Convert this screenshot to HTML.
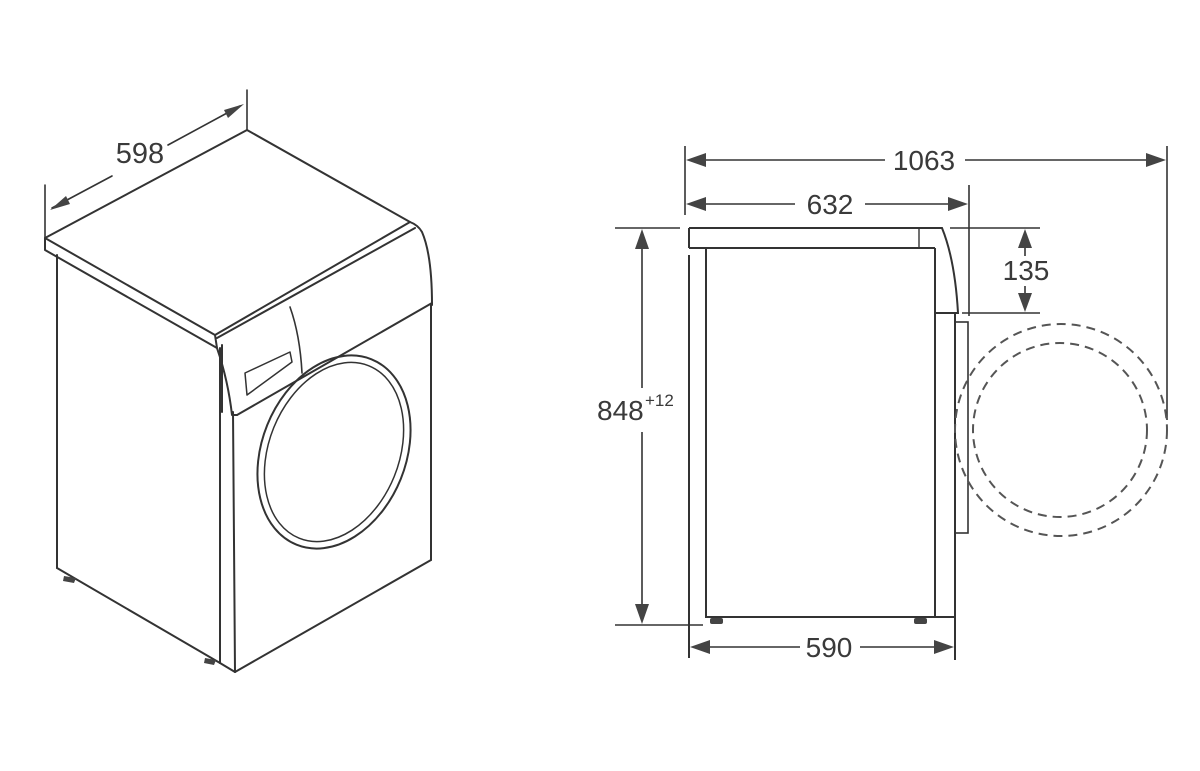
<!DOCTYPE html>
<html><head><meta charset="utf-8"><style>
html,body{margin:0;padding:0;background:#fff;}
svg{display:block;}
text{font-family:"Liberation Sans",sans-serif;fill:#3a3a3a;}
</style></head><body>
<svg width="1200" height="771" viewBox="0 0 1200 771" xmlns="http://www.w3.org/2000/svg">
<g fill="none" stroke="#333" stroke-width="2" stroke-linejoin="round" stroke-linecap="round">
<line x1="45" y1="185" x2="45" y2="238" stroke-width="1.6"/>
<line x1="247" y1="90" x2="247" y2="130" stroke-width="1.6"/>
<line x1="52" y1="208" x2="112" y2="176" stroke-width="1.6"/>
<line x1="168" y1="145" x2="240" y2="106" stroke-width="1.6"/>
<path d="M45,238 L247,130 L410,222 L215,335 Z"/>
<path d="M45,238 L45,250 L217,348"/>
<path d="M217,338 L415,228"/>
<path d="M410,222 Q418,225 422,232 Q432,255 432,305"/>
<path d="M237,415 L432,303"/>
<path d="M215,335 L217,348 Q228,380 232,415 L237,415"/>
<line x1="222" y1="345" x2="222" y2="412"/>
<path d="M290,307 Q300,335 302,373" stroke-width="1.6"/>
<path d="M245,373 L290,352 L292,362 L247,395 Z" stroke-width="1.5"/>
<line x1="57" y1="255" x2="57" y2="568"/>
<line x1="57" y1="568" x2="220" y2="663"/>
<line x1="220" y1="348" x2="220" y2="663"/>
<line x1="233" y1="412" x2="235" y2="672"/>
<line x1="220" y1="663" x2="235" y2="672"/>
<line x1="235" y1="672" x2="431" y2="560"/>
<line x1="431" y1="304" x2="431" y2="560"/>
<ellipse cx="334" cy="452" rx="72" ry="100" transform="rotate(22 334 452)"/>
<ellipse cx="334" cy="452" rx="65" ry="93" transform="rotate(22 334 452)" stroke-width="1.5"/>
</g>
<g fill="#444">
<path d="M64,576 L76,578 L74,583 L63,581 Z"/>
<path d="M205,658 L216,660 L214,665 L204,663 Z"/>
<polygon points="50,210 66,196 70,204"/>
<polygon points="244,104 228,118 224,110"/>
</g>
<text x="140" y="163" font-size="29" text-anchor="middle">598</text>

<g fill="none" stroke="#333" stroke-width="2">
<line x1="685" y1="146" x2="685" y2="215" stroke-width="1.6"/>
<line x1="1167" y1="146" x2="1167" y2="420" stroke-width="1.6"/>
<line x1="690" y1="160" x2="885" y2="160" stroke-width="1.6"/>
<line x1="965" y1="160" x2="1160" y2="160" stroke-width="1.6"/>
<line x1="969" y1="185" x2="969" y2="316" stroke-width="1.6"/>
<line x1="690" y1="204" x2="795" y2="204" stroke-width="1.6"/>
<line x1="865" y1="204" x2="962" y2="204" stroke-width="1.6"/>
<path d="M689,228 L942,228 Q955,260 958,313 L935,313"/>
<line x1="689" y1="228" x2="689" y2="248"/>
<line x1="919" y1="228" x2="919" y2="248" stroke-width="1.4"/>
<line x1="689" y1="248" x2="935" y2="248"/>
<line x1="689" y1="255" x2="689" y2="658"/>
<path d="M706,248 L706,617 L955,617"/>
<line x1="935" y1="248" x2="935" y2="617"/>
<line x1="955" y1="313" x2="955" y2="660"/>
<rect x="955" y="322" width="13" height="211" stroke-width="1.6"/>
<line x1="950" y1="228" x2="1040" y2="228" stroke-width="1.6"/>
<line x1="962" y1="313" x2="1040" y2="313" stroke-width="1.6"/>
<line x1="1025" y1="240" x2="1025" y2="256" stroke-width="1.6"/>
<line x1="1025" y1="286" x2="1025" y2="302" stroke-width="1.6"/>
<line x1="615" y1="228" x2="680" y2="228" stroke-width="1.6"/>
<line x1="615" y1="625" x2="703" y2="625" stroke-width="1.6"/>
<line x1="642" y1="235" x2="642" y2="388" stroke-width="1.6"/>
<line x1="642" y1="432" x2="642" y2="618" stroke-width="1.6"/>
<line x1="695" y1="647" x2="800" y2="647" stroke-width="1.6"/>
<line x1="860" y1="647" x2="950" y2="647" stroke-width="1.6"/>
<circle cx="1061" cy="430" r="106" stroke="#555" stroke-dasharray="9,6"/>
<circle cx="1060" cy="430" r="87" stroke="#555" stroke-dasharray="9,6"/>
</g>
<g fill="#444">
<rect x="710" y="618" width="13" height="6" rx="2"/>
<rect x="914" y="618" width="13" height="6" rx="2"/>
<polygon points="686,160 706,153 706,167"/>
<polygon points="1166,160 1146,153 1146,167"/>
<polygon points="686,204 706,197 706,211"/>
<polygon points="968,204 948,197 948,211"/>
<polygon points="1025,229 1018,248 1032,248"/>
<polygon points="1025,312 1018,293 1032,293"/>
<polygon points="642,229 635,249 649,249"/>
<polygon points="642,624 635,604 649,604"/>
<polygon points="690,647 710,640 710,654"/>
<polygon points="954,647 934,640 934,654"/>
</g>
<text x="924" y="170" font-size="28" text-anchor="middle">1063</text>
<text x="830" y="214" font-size="28" text-anchor="middle">632</text>
<text x="1026" y="280" font-size="28" text-anchor="middle">135</text>
<text x="597" y="420" font-size="28">848</text>
<text x="645" y="406" font-size="17">+12</text>
<text x="829" y="657" font-size="28" text-anchor="middle">590</text>
</svg>
</body></html>
